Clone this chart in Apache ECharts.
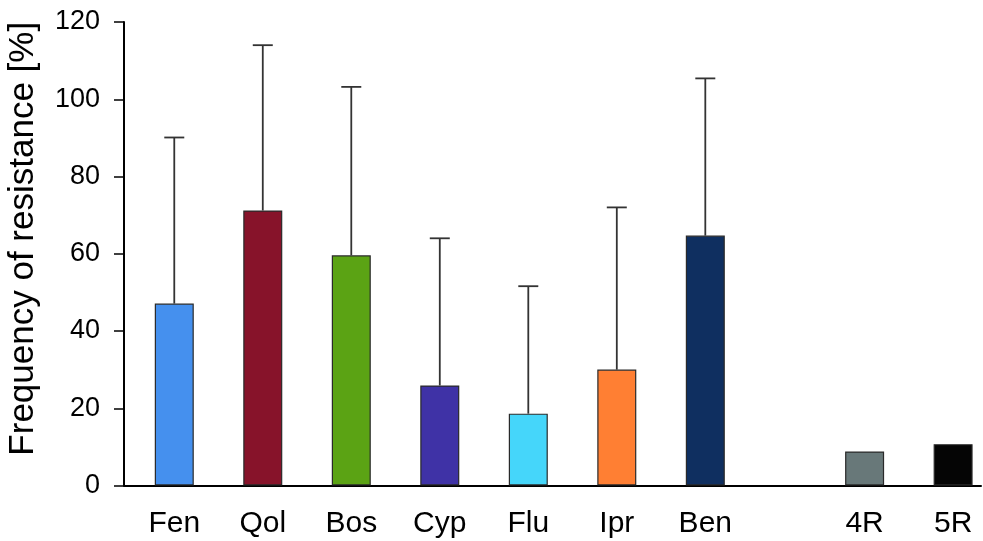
<!DOCTYPE html>
<html>
<head>
<meta charset="utf-8">
<script src="https://cdn.jsdelivr.net/npm/echarts@6/dist/echarts.min.js"></script>
<style>
html,body{margin:0;padding:0;background:#fff;}
#chart{width:983px;height:541px;}
</style>
</head>
<body>
<div id="chart"></div>
<script>
// Data
const categories = ['Fen', 'Qol', 'Bos', 'Cyp', 'Flu', 'Ipr', 'Ben', '4R', '5R'];
const values     = [47.1, 71.2, 59.6, 25.9, 18.6, 30.0, 64.7, 8.8, 10.7];
const errorsUp   = [43.0, 42.8, 43.6, 38.1, 33.0, 42.0, 40.7, null, null];
const yTicks     = [0, 20, 40, 60, 80, 100, 120];
const colors     = ['#4590EE', '#87132A', '#5BA314', '#3F32A6', '#45D6FA', '#FF7F33', '#0F2F60', '#687879', '#050505'];
// layout: slot position of each category along the x axis (gap before 4R)
const slots      = [0, 1, 2, 3, 4, 5, 6, 7.8, 8.8];

const barData = categories.map((c, i) => ({
  value: [slots[i], values[i]],
  name: c,
  itemStyle: { color: colors[i] }
}));
const errData = categories.map((c, i) => errorsUp[i] == null ? null : [slots[i], values[i], values[i] + errorsUp[i]]).filter(d => d);

const chart = echarts.init(document.getElementById('chart'));
chart.setOption({
  animation: false,
  grid: { left: 124, right: 2, top: 22, bottom: 55.5, containLabel: false, outerBoundsMode: 'none' },
  xAxis: {
    type: 'value',
    min: -0.568, max: 9.115,
    axisLine: { show: true, onZero: false, lineStyle: { color: '#000', width: 2 } },
    axisTick: { show: false },
    axisLabel: { show: false },
    splitLine: { show: false }
  },
  yAxis: {
    type: 'value',
    min: yTicks[0], max: yTicks[yTicks.length - 1], interval: 20,
    name: 'Frequency of resistance [%]',
    nameLocation: 'middle',
    nameGap: 83,
    nameTextStyle: { fontFamily: 'Liberation Sans, Arial', fontSize: 35, color: '#000', padding: [0, 0, 0, 30] },
    axisLine: { show: true, onZero: false, lineStyle: { color: '#000', width: 2 } },
    axisTick: { show: true, inside: false, length: 10, lineStyle: { color: '#000', width: 1.5 } },
    axisLabel: { fontFamily: 'Liberation Sans, Arial', fontSize: 27, color: '#000', margin: 24 },
    splitLine: { show: false }
  },
  series: [
    {
      type: 'bar',
      data: barData,
      barWidth: 39,
      itemStyle: { borderColor: '#2a2a2a', borderWidth: 1.2 },
      label: {
        show: true,
        position: 'bottom',
        distance: 23,
        formatter: p => p.name,
        fontFamily: 'Liberation Sans, Arial',
        fontSize: 30,
        color: '#000'
      },
      z: 2
    },
    {
      type: 'custom',
      data: errData,
      z: 1,
      renderItem: function (params, api) {
        const x = api.value(0);
        const top = api.coord([x, api.value(2)]);
        const base = api.coord([x, api.value(1)]);
        const hw = 10;
        return {
          type: 'group',
          children: [
            { type: 'line', shape: { x1: top[0], y1: top[1], x2: base[0], y2: base[1] }, style: { stroke: '#333', lineWidth: 1.8 } },
            { type: 'line', shape: { x1: top[0] - hw, y1: top[1], x2: top[0] + hw, y2: top[1] }, style: { stroke: '#333', lineWidth: 1.8 } }
          ]
        };
      }
    }
  ]
});
</script>
</body>
</html>
